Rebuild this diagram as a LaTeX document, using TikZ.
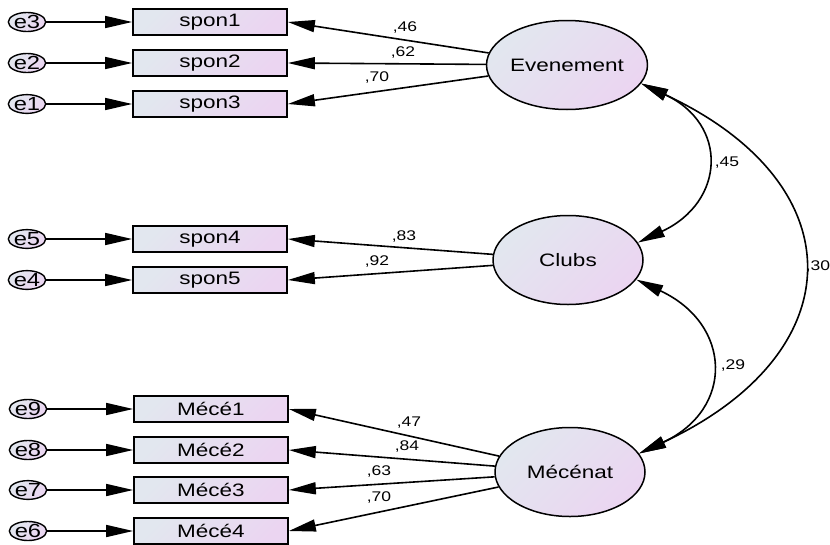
\documentclass[tikz,border=0pt]{standalone}
\usepackage{fontspec}
\newfontfamily\amosfont{Liberation Sans}[FakeStretch=1.25]
\usepackage{tikz}
\usetikzlibrary{arrows.meta, shapes.geometric}
\definecolor{fillblue}{RGB}{226, 231, 239}
\definecolor{fillpink}{RGB}{235, 213, 241}

\tikzset{
  shade/.style={left color=fillblue, right color=fillpink, shading angle=45},
  obsbox/.style={shade, draw, line width=1.7pt, rectangle, minimum width=154pt, minimum height=26pt, inner sep=0pt, font=\amosfont\fontsize{18}{20}\selectfont},
  latent/.style={shade, draw, line width=1.5pt, ellipse, minimum width=150pt, minimum height=89pt, inner sep=0pt, font=\amosfont\fontsize{18}{20}\selectfont},
  errnode/.style={shade, draw, line width=1.4pt, ellipse, minimum width=30pt, minimum height=18pt, inner sep=0pt, font=\amosfont\fontsize{19}{19}\selectfont},
  regline/.style={line width=1.6pt, -{Triangle[length=27pt,width=12pt]}},
  covline/.style={line width=1.6pt, {Triangle[length=27pt,width=12pt]}-{Triangle[length=27pt,width=12pt]}},
  coef/.style={inner sep=0pt, font=\amosfont\fontsize{14}{16}\selectfont}
}

\begin{document}
\begin{tikzpicture}[x=1pt, y=-1pt]
\useasboundingbox (0,0) rectangle (830,544);
\clip (0,0) rectangle (830,544);

% latent factors
\node[latent] (ev) at (567,65) {Evenement};
\node[latent] (cl) at (568,260) {Clubs};
\node[latent] (me) at (570,472) {Mécénat};

% indicators
\node[obsbox] (s1) at (210,22) {spon1};
\node[obsbox] (s2) at (210,63) {spon2};
\node[obsbox] (s3) at (210,104) {spon3};
\node[obsbox] (s4) at (210,239) {spon4};
\node[obsbox] (s5) at (210,280) {spon5};
\node[obsbox] (m1) at (211,409) {Mécé1};
\node[obsbox] (m2) at (211,450) {Mécé2};
\node[obsbox] (m3) at (211,490) {Mécé3};
\node[obsbox] (m4) at (211,531) {Mécé4};

% residuals
\node[errnode] (e3) at (27,22) {e3};
\node[errnode] (e2) at (27,63) {e2};
\node[errnode] (e1) at (27,104) {e1};
\node[errnode] (e5) at (27,239) {e5};
\node[errnode] (e4) at (27,280) {e4};
\node[errnode] (e9) at (28,409) {e9};
\node[errnode] (e8) at (28,450) {e8};
\node[errnode] (e7) at (28,490) {e7};
\node[errnode] (e6) at (28,531) {e6};

\draw[regline] (e3) -- (s1);
\draw[regline] (e2) -- (s2);
\draw[regline] (e1) -- (s3);
\draw[regline] (e5) -- (s4);
\draw[regline] (e4) -- (s5);
\draw[regline] (e9) -- (m1);
\draw[regline] (e8) -- (m2);
\draw[regline] (e7) -- (m3);
\draw[regline] (e6) -- (m4);

% loadings
\draw[regline] (ev) -- (s1.east);
\draw[regline] (ev) -- (s2.east);
\draw[regline] (ev) -- (s3.east);
\draw[regline] (cl) -- (s4.east);
\draw[regline] (cl) -- (s5.east);
\draw[regline] (me) -- (m1.east);
\draw[regline] (me) -- (m2.east);
\draw[regline] (me) -- (m3.east);
\draw[regline] (me) -- (m4.east);

\node[coef] (l1) at (405,28) {,46};
\node[coef] (l2) at (403,53) {,62};
\node[coef] (l3) at (377,78) {,70};
\node[coef] (l4) at (404,237) {,83};
\node[coef] (l5) at (377,262) {,92};
\node[coef] (l6) at (409,423) {,47};
\node[coef] (l7) at (407,447) {,84};
\node[coef] (l8) at (379,472) {,63};
\node[coef] (l9) at (379,497) {,70};

% correlations
\draw[covline] (ev.-14) to[out=-25, in=25, looseness=1.55] (cl.14);
\draw[covline] (cl.-16) to[out=-25, in=25, looseness=1.55] (me.15);
\draw[covline] (ev.-14) to[out=-25, in=25, looseness=1.64] (me.15);

\node[coef] (c1) at (727,163) {,45};
\node[coef] (c2) at (733,366) {,29};
\node[coef] (c3) at (818,267) {,30};
\end{tikzpicture}
\end{document}
